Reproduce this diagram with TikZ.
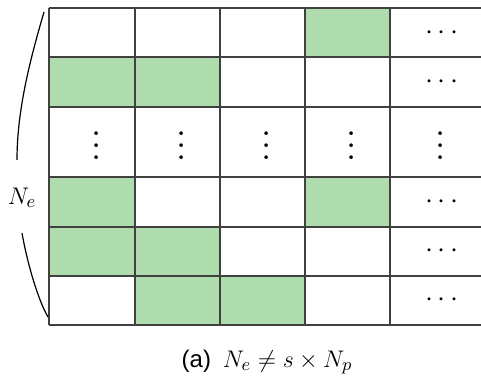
\documentclass[tikz,border=0pt]{standalone}
\usepackage{fontspec}
\newfontfamily\capfont{Liberation Sans}
\usepackage{graphicx}
\usetikzlibrary{positioning}
\definecolor{cellGreen}{HTML}{AEDCAC}
\definecolor{gridLine}{HTML}{404040}
\tikzset{
  greencell/.style={fill=cellGreen},
  gridline/.style={draw=gridLine, line width=0.7pt},
  dotlabel/.style={inner sep=0pt, font=\fontsize{12.5}{15}\selectfont},
  bracearc/.style={draw=black, line width=0.6pt},
}
\newcommand{\cellvdots}{\scalebox{1.5}{$\vdots$}}
\newcommand{\cellcdots}{\scalebox{1.2}{$\cdotp\cdotp\cdotp$}}

\begin{document}
\begin{tikzpicture}[x=0.5pt, y=-0.5pt]
    \useasboundingbox (0,0) rectangle (481,379);
    % filled cells
    \fill[greencell] (305,8) rectangle (390,57);
    \fill[greencell] (49,57) rectangle (220,107);
    \fill[greencell] (49,177) rectangle (135,227);
    \fill[greencell] (305,177) rectangle (390,227);
    \fill[greencell] (49,227) rectangle (220,276);
    \fill[greencell] (135,276) rectangle (305,325);
    % grid
    \foreach \y in {8,57,107,177,227,276,325}
      \draw[gridline] (49,\y) -- (481,\y);
    \foreach \x in {49,135,220,305,390}
      \draw[gridline] (\x,8) -- (\x,325);
    \foreach \y [count=\i] in {33,82,202,251,300}
      \node[dotlabel] (hdots\i) at (442,\y) {\cellcdots};
    \foreach \x [count=\i] in {97,182,267,352,441}
      \node[dotlabel] (vdots\i) at (\x,137) {\cellvdots};
    % left bracket
    \node[dotlabel] (ne) at (22,198) {$N_e$};
    \coordinate (braceTop) at (44,12);
    \coordinate (braceUp) at (17,160);
    \coordinate (braceDown) at (22,233);
    \coordinate (braceBot) at (48,317);
    \draw[bracearc] (braceTop) .. controls (30,60) and (17,110) .. (braceUp);
    \draw[bracearc] (braceDown) .. controls (27,262) and (38,300) .. (braceBot);
    \node[font=\fontsize{13}{15}\selectfont] (caption) at (267,362)
      {{\capfont\fontsize{12}{15}\selectfont (a)}\hspace{0.45em}$N_e \neq s\times N_p$};
  \end{tikzpicture}
\end{document}
